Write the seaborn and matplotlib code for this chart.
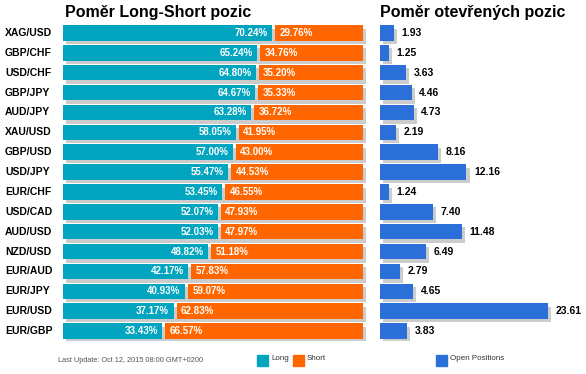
import pandas as pd
import matplotlib.pyplot as plt
import matplotlib.patches as mpatches
import seaborn as sns

# Data
pairs = ['XAG/USD', 'GBP/CHF', 'USD/CHF', 'GBP/JPY', 'AUD/JPY', 'XAU/USD', 'GBP/USD', 'USD/JPY',
         'EUR/CHF', 'USD/CAD', 'AUD/USD', 'NZD/USD', 'EUR/AUD', 'EUR/JPY', 'EUR/USD', 'EUR/GBP']
long_pct = [70.24, 65.24, 64.80, 64.67, 63.28, 58.05, 57.00, 55.47,
            53.45, 52.07, 52.03, 48.82, 42.17, 40.93, 37.17, 33.43]
short_pct = [29.76, 34.76, 35.20, 35.33, 36.72, 41.95, 43.00, 44.53,
             46.55, 47.93, 47.97, 51.18, 57.83, 59.07, 62.83, 66.57]
open_pos = [1.93, 1.25, 3.63, 4.46, 4.73, 2.19, 8.16, 12.16,
            1.24, 7.40, 11.48, 6.49, 2.79, 4.65, 23.61, 3.83]

df = pd.DataFrame({'pair': pairs, 'long': long_pct, 'short': short_pct, 'open': open_pos})

teal = '#01a5bf'
orange = '#ff6600'
blue = '#2b6fd9'
shadow = '#cccccc'

sns.set_style('white')
plt.rcParams['font.family'] = ['Liberation Sans', 'DejaVu Sans']

fig = plt.figure(figsize=(5.86, 3.74), dpi=100)
W, H = 586, 374

def px_axes(x0, x1, y0, y1):
    return fig.add_axes([x0 / W, 1 - y1 / H, (x1 - x0) / W, (y1 - y0) / H])

ypos = list(range(len(pairs)))
gap = 1.0
bh = 0.78
dy = 0.17

# Left panel: long/short ratio
ax1 = px_axes(63, 370, 23, 341)
ax1.barh([y + dy for y in ypos], [100 + gap] * len(pairs), left=1.0, height=bh,
         color=shadow, linewidth=0, zorder=1)
sns.barplot(data=df, x='long', y='pair', orient='h', color=teal, width=bh, saturation=1,
            linewidth=0, ax=ax1, zorder=2)
ax1.barh(ypos, df['short'], left=df['long'] + gap, height=bh, color=orange, linewidth=0, zorder=2)
for i, row in df.iterrows():
    ax1.text(row['long'] - 1.5, i, f"{row['long']:.2f}%", ha='right', va='center',
             color='white', fontsize=7, fontweight='bold', zorder=3)
    ax1.text(row['long'] + gap + 1.5, i, f"{row['short']:.2f}%", ha='left', va='center',
             color='white', fontsize=7, fontweight='bold', zorder=3)
ax1.set_xlim(0, 307 / 2.975)
ax1.set_ylim(len(pairs) - 0.5, -0.5)
ax1.set_xlabel('')
ax1.set_ylabel('')
ax1.set_xticks([])
ax1.set_yticks([])
sns.despine(ax=ax1, left=True, bottom=True)
for i, p in enumerate(pairs):
    fig.text(5 / W, 1 - (33 + i * 19.87) / H, p, ha='left', va='center',
             fontsize=7.5, fontweight='bold', color='black')

# Right panel: open positions
ax2 = px_axes(380, 586, 23, 341)
ax2.barh([y + dy for y in ypos], df['open'], left=0.45, height=bh, color=shadow, linewidth=0, zorder=1)
sns.barplot(data=df, x='open', y='pair', orient='h', color=blue, width=bh, saturation=1,
            linewidth=0, ax=ax2, zorder=2)
for i, row in df.iterrows():
    ax2.annotate(f"{row['open']:.2f}", (row['open'], i), xytext=(5.5, 0), textcoords='offset points',
                 ha='left', va='center', fontsize=7.5, fontweight='bold', color='black')
ax2.set_xlim(0, 206 / 7.1)
ax2.set_ylim(len(pairs) - 0.5, -0.5)
ax2.set_xlabel('')
ax2.set_ylabel('')
ax2.set_xticks([])
ax2.set_yticks([])
sns.despine(ax=ax2, left=True, bottom=True)

# Titles
fig.text(65 / W, 1 - 12 / H, 'Poměr Long-Short pozic', ha='left', va='center',
         fontsize=11.5, fontweight='bold', color='black')
fig.text(380 / W, 1 - 12 / H, 'Poměr otevřených pozic', ha='left', va='center',
         fontsize=11.5, fontweight='bold', color='black')

# Footer and legend
fig.text(58 / W, 1 - 360 / H, 'Last Update: Oct 12, 2015 08:00 GMT+0200', ha='left', va='center',
         fontsize=5.3, color='#555555')
for x0, col, lab in [(257, teal, 'Long'), (293, orange, 'Short'), (436, blue, 'Open Positions')]:
    fig.patches.append(mpatches.Rectangle((x0 / W, 1 - 366 / H), 11 / W, 11 / H,
                                          transform=fig.transFigure, color=col))
    fig.text((x0 + 14) / W, 1 - 358 / H, lab, ha='left', va='center', fontsize=5.8, color='#333333')

plt.savefig('out.png', dpi=100)
